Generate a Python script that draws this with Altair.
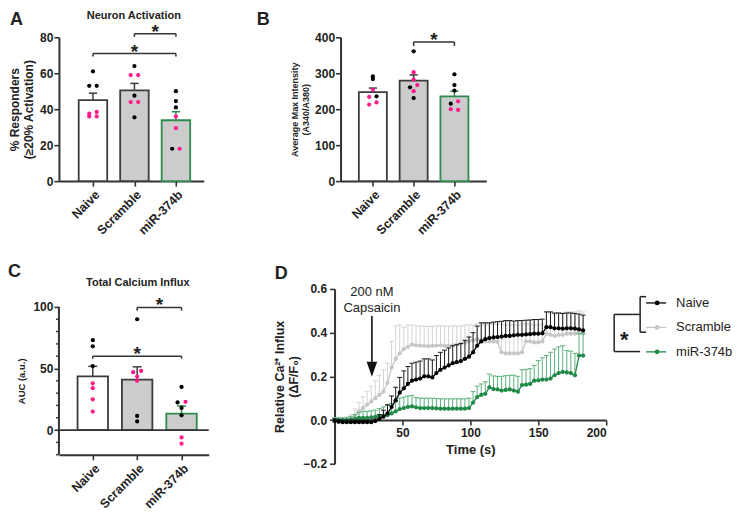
import json
import pandas as pd
import altair as alt

FONT = "Liberation Sans"
INK = "#222222"

# ---------------- shared categories ----------------
groups = ["Naive", "Scramble", "miR-374b"]
bar_fill = ["#ffffff", "#cccccc", "#cccccc"]
bar_stroke = ["#3c3c3c", "#3c3c3c", "#2e8b4e"]
K = "#000000"
P = "#ff1a8c"

# ---------------- Panel A: % responders ----------------
a_vals = [[61, 53, 53, 38.5, 37.5, 36, 36],
          [64, 59, 59, 47.5, 44, 44, 35.5],
          [50, 44.5, 41, 36, 29.5, 18, 18]]
a_cols = [[K, K, K, P, P, P, P], [K, P, P, K, P, P, K], [K, K, K, P, P, K, P]]
a_offs = [[0, -0.09, 0.09, 0.09, -0.09, -0.09, 0.09],
          [0, -0.09, 0.09, 0, -0.09, 0.09, 0],
          [0, 0, 0, 0, 0, -0.09, 0.09]]
a_brackets = [(1, 2, 82, 80.3, 86), (0, 2, 71, 69.3, 74.7)]

# ---------------- Panel B: average max intensity ----------------
b_vals = [[291, 284, 254, 236, 234, 219, 213],
          [361, 303, 282, 267, 261, 250, 231],
          [297, 267, 252, 215.5, 222, 200, 198]]
b_cols = [[K, K, P, K, P, P, P], [K, P, P, P, K, P, K], [K, K, K, K, P, P, P]]
b_offs = [[0, 0, 0, 0.09, -0.09, 0.09, -0.09],
          [0, 0, 0, 0.09, -0.09, 0, 0],
          [0, 0, 0, -0.09, 0.09, -0.09, 0.09]]
b_brackets = [(1, 2, 387, 376, 407)]

# ---------------- Panel C: AUC ----------------
c_vals = [[73, 68, 52, 38, 34, 25, 15],
          [90, 48, 47, 43.5, 40, 11.5, 7],
          [35, 22.5, 23, 18, 12, -6, -11]]
c_cols = [[K, K, K, P, P, P, P], [K, P, P, P, P, K, K], [K, K, P, K, K, P, P]]
c_offs = [[0, 0, 0, 0, 0, 0, 0],
          [0, 0.09, -0.09, 0, 0, 0, 0],
          [0, -0.09, 0.09, 0, 0, 0, 0]]
c_brackets = [(1, 2, 99.5, 97, 105.3), (0, 2, 60, 58, 66)]
c_minor = [-20, -10, 10, 20, 30, 40, 60, 70, 80, 90]

# ---------------- Panel D: time course ----------------
times = [0, 3, 6, 9, 12, 15, 18, 21, 24, 27, 30, 33, 36, 39, 42, 45, 48, 51, 54, 57,
         60, 63, 66, 69, 72, 75, 78, 81, 84, 87, 90, 93, 96, 99, 102, 105, 108, 111, 114, 117,
         120, 123, 126, 129, 132, 135, 138, 141, 144, 147, 150, 153, 156, 159, 162, 165, 168, 171, 174, 177,
         180, 183]
naive_mean = [-0.005, -0.008, -0.01, -0.01, -0.01, -0.01, -0.01, -0.01, -0.01, -0.01,
              -0.005, 0.005, 0.015, 0.03, 0.06, 0.09, 0.125, 0.145, 0.165, 0.18,
              0.185, 0.19, 0.2, 0.2, 0.195, 0.215, 0.23, 0.24, 0.25, 0.26,
              0.265, 0.27, 0.28, 0.29, 0.31, 0.34, 0.36, 0.37, 0.375, 0.378,
              0.38, 0.382, 0.385, 0.385, 0.388, 0.39, 0.39, 0.392, 0.393, 0.395,
              0.395, 0.397, 0.425, 0.425, 0.42, 0.42, 0.418, 0.42, 0.42, 0.418,
              0.415, 0.41]
naive_err = [0.01, 0.01, 0.01, 0.01, 0.01, 0.01, 0.01, 0.01, 0.01, 0.01,
             0.01, 0.02, 0.03, 0.04, 0.05, 0.06, 0.07, 0.08, 0.08, 0.08,
             0.08, 0.08, 0.08, 0.08, 0.08, 0.08, 0.08, 0.08, 0.08, 0.08,
             0.08, 0.08, 0.085, 0.09, 0.09, 0.09, 0.085, 0.075, 0.07, 0.07,
             0.07, 0.07, 0.07, 0.07, 0.065, 0.065, 0.065, 0.065, 0.065, 0.065,
             0.065, 0.065, 0.07, 0.07, 0.07, 0.07, 0.07, 0.07, 0.07, 0.07,
             0.07, 0.07]
scr_mean = [0.0, 0.0, 0.0, 0.0, 0.005, 0.02, 0.04, 0.055, 0.07, 0.085,
            0.1, 0.115, 0.13, 0.17, 0.24, 0.28, 0.305, 0.325, 0.335, 0.345,
            0.342, 0.34, 0.34, 0.338, 0.34, 0.34, 0.342, 0.34, 0.34, 0.342,
            0.345, 0.35, 0.355, 0.36, 0.365, 0.37, 0.365, 0.36, 0.36, 0.36,
            0.358, 0.31, 0.305, 0.305, 0.305, 0.305, 0.31, 0.36, 0.36, 0.355,
            0.355, 0.36, 0.395, 0.39, 0.385, 0.39, 0.39, 0.395, 0.395, 0.395,
            0.4, 0.395]
scr_err = [0.01, 0.01, 0.01, 0.015, 0.02, 0.03, 0.04, 0.05, 0.06, 0.07,
           0.08, 0.09, 0.1, 0.09, 0.12, 0.15, 0.13, 0.1, 0.1, 0.09,
           0.09, 0.09, 0.09, 0.09, 0.09, 0.09, 0.09, 0.09, 0.09, 0.09,
           0.085, 0.08, 0.08, 0.075, 0.07, 0.07, 0.07, 0.075, 0.08, 0.08,
           0.08, 0.13, 0.13, 0.13, 0.13, 0.13, 0.13, 0.08, 0.08, 0.08,
           0.08, 0.08, 0.1, 0.1, 0.1, 0.1, 0.1, 0.1, 0.1, 0.1,
           0.1, 0.1]
mir_mean = [0.0, 0.0, 0.0, 0.0, 0.002, 0.005, 0.01, 0.01, 0.01, 0.012,
            0.015, 0.018, 0.02, 0.022, 0.03, 0.04, 0.05, 0.055, 0.06, 0.062,
            0.058, 0.055, 0.055, 0.055, 0.055, 0.053, 0.052, 0.052, 0.052, 0.052,
            0.052, 0.052, 0.052, 0.055, 0.08, 0.105, 0.115, 0.12, 0.15, 0.142,
            0.14, 0.135, 0.138, 0.14, 0.135, 0.13, 0.16, 0.162, 0.165, 0.18,
            0.182, 0.185, 0.185, 0.19, 0.205, 0.215, 0.22, 0.218, 0.215, 0.205,
            0.295, 0.295]
mir_err = [0.01, 0.01, 0.01, 0.01, 0.015, 0.02, 0.025, 0.03, 0.03, 0.03,
           0.03, 0.035, 0.04, 0.045, 0.045, 0.045, 0.05, 0.05, 0.05, 0.05,
           0.045, 0.045, 0.045, 0.045, 0.045, 0.045, 0.045, 0.045, 0.045, 0.045,
           0.045, 0.045, 0.045, 0.045, 0.05, 0.05, 0.05, 0.055, 0.06, 0.06,
           0.06, 0.065, 0.065, 0.065, 0.07, 0.07, 0.07, 0.07, 0.07, 0.07,
           0.09, 0.1, 0.11, 0.12, 0.12, 0.12, 0.12, 0.1, 0.1, 0.1,
           0.1, 0.1]
series = ["Naive", "Scramble", "miR-374b"]
line_colors = ["#000000", "#c6c6c6", "#1e8a46"]
err_colors = ["#1a1a1a", "#d4d4d4", "#5db27c"]
series_means = [naive_mean, scr_mean, mir_mean]
series_errs = [naive_err, scr_err, mir_err]
draw_order = [1, 2, 0]


def one():
    return alt.Chart(pd.DataFrame({"k": [0]}))


def px_text(txt, x, y, size, weight="bold", align="left", baseline="top", dy=0):
    return alt.Chart(pd.DataFrame({"t": [txt]})).mark_text(
        font=FONT, fontSize=size, fontWeight=weight, align=align, baseline=baseline,
        color=INK, dy=dy
    ).encode(text="t:N", x=alt.value(x), y=alt.value(y))


def bar_panel(vals, cols, offs, brackets, ydom, yvals, ytitle, ytsize, ytx,
              xdom, W, H, letter_xy, title=None, title_xy=None, minor=None,
              zero_line=False, extra=0):
    rows = []
    for gi, (vs, cs, os_) in enumerate(zip(vals, cols, offs)):
        for v, c, o in zip(vs, cs, os_):
            rows.append(dict(gi=gi, v=v, dc=c, xd=gi + o,
                             fill=bar_fill[gi], stroke=bar_stroke[gi]))
    df = pd.DataFrame(rows)
    # extra empty pixels above the top of the y axis (for row alignment)
    upp = (ydom[1] - ydom[0]) / H
    ydom_full = [ydom[0], ydom[1] + extra * upp]
    HT = H + extra
    xs = alt.Scale(domain=xdom, nice=False, zero=False)
    ys = alt.Scale(domain=ydom_full, nice=False, zero=False)
    unit = W / (xdom[1] - xdom[0])
    bw = 0.64 * unit

    agg = alt.Chart(df).transform_aggregate(
        mean="mean(v)", sem="stderr(v)", groupby=["gi", "fill", "stroke"]
    ).transform_calculate(top="datum.mean + datum.sem",
                          cl="datum.gi - 0.1", cr="datum.gi + 0.1")

    xaxis = alt.Axis(values=[0, 1, 2], labelExpr=f"{json.dumps(groups)}[datum.value]",
                     labelAngle=-45, labelAlign="right", labelBaseline="top",
                     labelFontSize=12.5, labelPadding=2, labelOverlap=False,
                     labelBound=False, title=None)
    yaxis = alt.Axis(values=yvals, format="d", title=ytitle, titleFontSize=ytsize,
                     titleX=ytx, titleY=extra + H / 2, titleAngle=270,
                     titleBaseline="bottom", titleAlign="center", labelPadding=1,
                     labelOverlap=False, domain=(extra == 0))

    def X(f):
        return alt.X(f, scale=xs, axis=xaxis)

    def Y(f):
        return alt.Y(f, scale=ys, axis=yaxis)

    layers = []
    layers.append(agg.mark_bar(size=bw, strokeWidth=1.8).encode(
        x=X("gi:Q"), y=Y("mean:Q"), y2=alt.datum(0),
        fill=alt.Fill("fill:N", scale=None),
        stroke=alt.Stroke("stroke:N", scale=None)))
    if extra:
        layers.append(alt.Chart(pd.DataFrame({"y1": [ydom[0]], "y2": [ydom[1]]})).mark_rule(
            color="#333", strokeWidth=2).encode(
            x=alt.value(0), y=Y("y1:Q"), y2="y2:Q"))
    if zero_line:
        layers.append(alt.Chart(pd.DataFrame({"z": [0]})).mark_rule(
            color="#333", strokeWidth=1.6).encode(
            y=Y("z:Q"), x=alt.value(0), x2=alt.value(W)))
    layers.append(agg.mark_rule(strokeWidth=1.5).encode(
        x=X("gi:Q"), y=Y("mean:Q"), y2="top:Q",
        color=alt.Color("stroke:N", scale=None)))
    layers.append(agg.mark_rule(strokeWidth=1.5).encode(
        x=X("cl:Q"), x2="cr:Q", y=Y("top:Q"),
        color=alt.Color("stroke:N", scale=None)))
    layers.append(alt.Chart(df).mark_circle(size=18, opacity=1).encode(
        x=X("xd:Q"), y=Y("v:Q"), color=alt.Color("dc:N", scale=None)))
    if minor:
        layers.append(alt.Chart(pd.DataFrame({"m": minor})).mark_rule(
            color="#333", strokeWidth=1.4).encode(
            y=Y("m:Q"), x=alt.value(-3), x2=alt.value(0)))
    # significance brackets
    hb = pd.DataFrame([dict(g1=b[0], g2=b[1], yl=b[2]) for b in brackets])
    vt = pd.DataFrame([dict(g=g, yl=b[2], yt=b[3]) for b in brackets for g in (b[0], b[1])])
    st = pd.DataFrame([dict(g=(b[0] + b[1]) / 2, ys_=b[4], s="*") for b in brackets])
    layers.append(alt.Chart(hb).mark_rule(color="#333", strokeWidth=1.5).encode(
        x=X("g1:Q"), x2="g2:Q", y=Y("yl:Q")))
    layers.append(alt.Chart(vt).mark_rule(color="#333", strokeWidth=1.5).encode(
        x=X("g:Q"), y=Y("yl:Q"), y2="yt:Q"))
    layers.append(alt.Chart(st).mark_text(font=FONT, fontSize=19, fontWeight="bold",
                                          baseline="alphabetic", dy=11, color=INK).encode(
        x=X("g:Q"), y=Y("ys_:Q"), text="s:N"))
    layers.append(px_text(letter_xy[2], letter_xy[0], extra + letter_xy[1], 18))
    if title:
        layers.append(px_text(title, title_xy[0], extra + title_xy[1], 11, align="center",
                              baseline="middle"))
    return alt.layer(*layers).properties(width=W, height=HT)


# ---------- build A, B, C ----------
A = bar_panel(a_vals, a_cols, a_offs, a_brackets, [0, 80], [0, 20, 40, 60, 80],
              ["% Responders", "(\u226520% Activation)"], 12, -37,
              [-0.7, 2.55], 145, 144, (-49, -26, "A"),
              title="Neuron Activation", title_xy=(75, -21))
B = bar_panel(b_vals, b_cols, b_offs, b_brackets, [0, 400], [0, 100, 200, 300, 400],
              ["Average Max Intensity", "(A340/A380)"], 9, -41,
              [-0.67, 2.66], 146, 144, (-84, -26, "B"))
C = bar_panel(c_vals, c_cols, c_offs, c_brackets, [-20, 100], [0, 50, 100],
              "AUC (a.u.)", 9.5, -32,
              [-0.65, 2.5], 150, 148, (-51, -44, "C"),
              title="Total Calcium Influx", title_xy=(79, -24),
              minor=c_minor, zero_line=True, extra=18)

# ---------- build D ----------
WD, HD = 272, 175
xsd = alt.Scale(domain=[0, 200], nice=False, zero=False)
ysd = alt.Scale(domain=[-0.2, 0.6], nice=False, zero=False)
xaxd = alt.Axis(values=[50, 100, 150, 200], title="Time (s)", titleFontSize=13,
                offset=-HD / 4, titlePadding=6, labelPadding=2)
yaxd = alt.Axis(values=[-0.2, 0.0, 0.2, 0.4, 0.6], format=".1f",
                title=["Relative Ca\u00b2\u207a Influx", "(\u0394F/F\u2080)"], titleFontSize=12.5,
                titleX=-48.5, titleY=HD / 2, titleAngle=270, titleBaseline="bottom",
                titleAlign="center", labelPadding=3)


def XD(f):
    return alt.X(f, scale=xsd, axis=xaxd)


def YD(f):
    return alt.Y(f, scale=ysd, axis=yaxd)


d_layers = []
for si in draw_order:
    sdf = pd.DataFrame({"t": times, "m": series_means[si], "e": series_errs[si]})
    sdf["top"] = sdf["m"] + sdf["e"]
    sdf["cl"] = sdf["t"] - 1.8
    sdf["cr"] = sdf["t"] + 1.8
    base = alt.Chart(sdf)
    d_layers.append(base.mark_rule(strokeWidth=1, color=err_colors[si]).encode(
        x=XD("t:Q"), y=YD("m:Q"), y2="top:Q"))
    d_layers.append(base.mark_rule(strokeWidth=1, color=err_colors[si]).encode(
        x=XD("cl:Q"), x2="cr:Q", y=YD("top:Q")))
    d_layers.append(base.mark_line(strokeWidth=1.3, color=line_colors[si]).encode(
        x=XD("t:Q"), y=YD("m:Q")))
    d_layers.append(base.mark_circle(size=18, opacity=1, color=line_colors[si]).encode(
        x=XD("t:Q"), y=YD("m:Q")))

# capsaicin annotation (data coordinates)
ann_txt = pd.DataFrame({"t": [27.5, 27.5], "y": [0.585, 0.515], "s": ["200 nM", "Capsaicin"]})
d_layers.append(alt.Chart(ann_txt).mark_text(font=FONT, fontSize=13, color=INK,
                                             baseline="middle").encode(
    x=XD("t:Q"), y=YD("y:Q"), text="s:N"))
arrow = pd.DataFrame({"t": [27.5], "y1": [0.476], "y2": [0.245], "yh": [0.232]})
d_layers.append(alt.Chart(arrow).mark_rule(color="#111", strokeWidth=1.6).encode(
    x=XD("t:Q"), y=YD("y1:Q"), y2="y2:Q"))
d_layers.append(alt.Chart(arrow).mark_point(
    shape="M-0.7,-1L0.7,-1L0,1Z", size=225, filled=True, opacity=1, color="#111").encode(
    x=XD("t:Q"), y=YD("yh:Q")))

# legend with significance bracket (guide drawn in pixels)
for i, name in enumerate(series):
    yy = 14 + i * 24.5
    d_layers.append(one().mark_rule(color=line_colors[i], strokeWidth=1.3).encode(
        x=alt.value(WD + 40), x2=alt.value(WD + 60), y=alt.value(yy)))
    d_layers.append(one().mark_circle(size=22, opacity=1, color=line_colors[i]).encode(
        x=alt.value(WD + 51), y=alt.value(yy)))
    d_layers.append(px_text(name, WD + 70, yy, 13, weight="normal", baseline="middle"))
br = "#222"
for (x1, y1, x2, y2) in [(WD + 34, 7.7, WD + 34, 43.3), (WD + 34, 7.7, WD + 40, 7.7),
                         (WD + 34, 43.3, WD + 40, 43.3), (WD + 8, 25.5, WD + 34, 25.5),
                         (WD + 8, 25.5, WD + 8, 62.7), (WD + 8, 62.7, WD + 34, 62.7)]:
    d_layers.append(one().mark_rule(color=br, strokeWidth=1.5).encode(
        x=alt.value(x1), x2=alt.value(x2), y=alt.value(y1), y2=alt.value(y2)))
d_layers.append(px_text("*", WD + 18, 46, 22, align="center", baseline="alphabetic", dy=12.5))
d_layers.append(px_text("D", -60, -24, 18))

D = alt.layer(*d_layers).properties(width=WD, height=HD)

row1 = alt.hconcat(A, B, spacing=53)
row2 = alt.hconcat(C, D, spacing=63)
chart = alt.vconcat(row1, row2, spacing=26).properties(
    padding={"left": 0, "top": 2, "right": 0, "bottom": 0}
).configure_view(
    stroke=None
).configure_axis(
    grid=False, domainColor="#333", domainWidth=2, tickColor="#333", tickWidth=1.6,
    tickSize=5, labelFont=FONT, labelFontWeight="bold", labelFontSize=12,
    labelColor=INK, titleFont=FONT, titleColor=INK, titleFontWeight="bold"
)

chart.save("out.html", embed_options={"renderer": "svg", "actions": False})
